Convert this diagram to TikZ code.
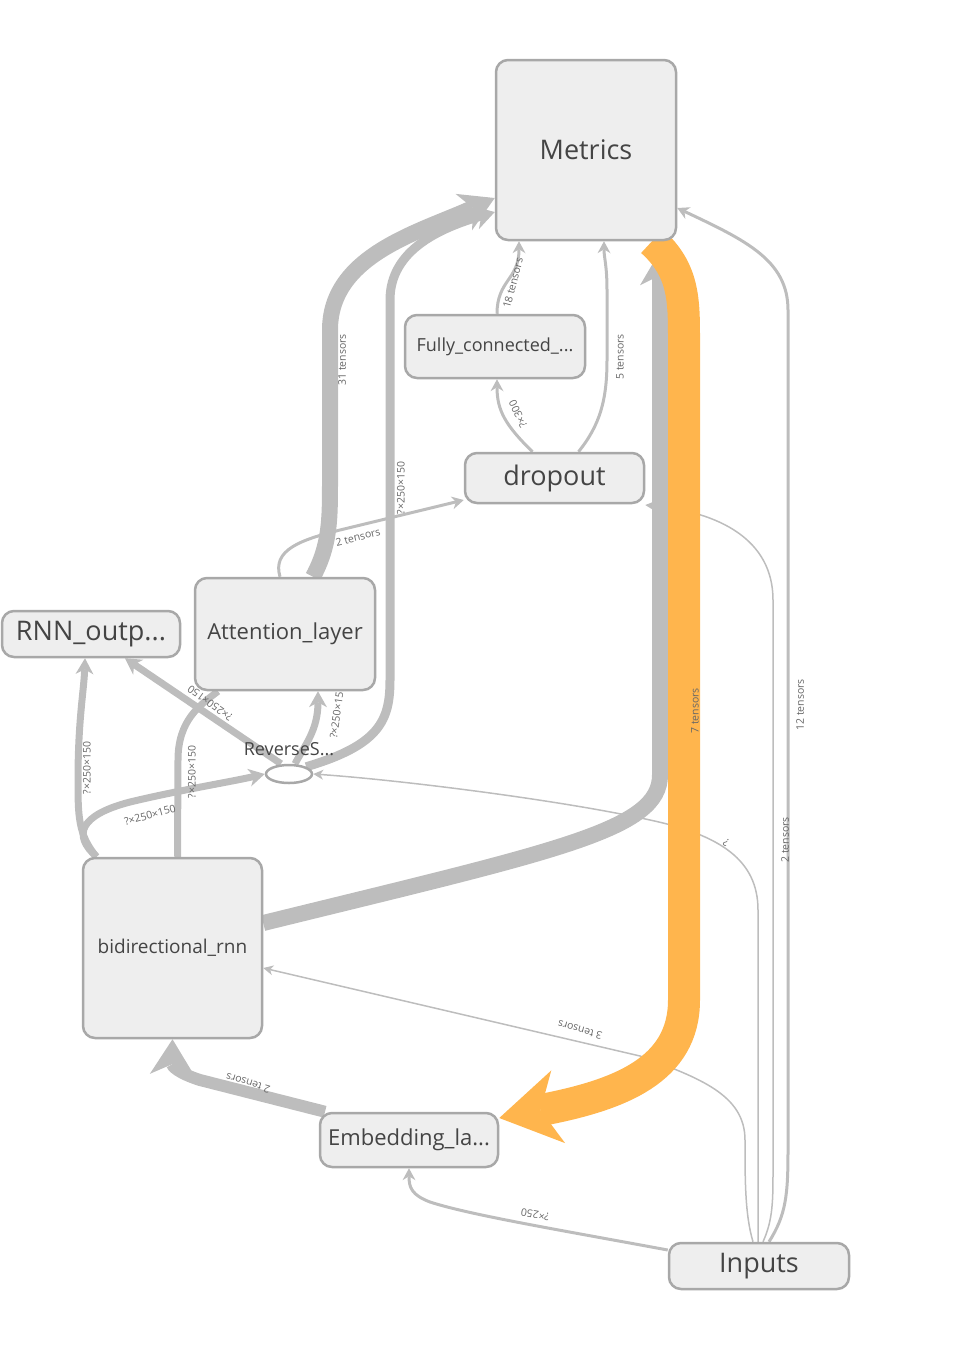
\documentclass[tikz,border=0pt]{standalone}
\usepackage{fontspec}
\setmainfont{Open Sans}
\usetikzlibrary{arrows.meta,shapes.geometric,backgrounds}
\definecolor{boxfill}{HTML}{EEEEEE}
\definecolor{boxline}{HTML}{A8A8A8}
\definecolor{edgegray}{HTML}{BDBDBD}
\definecolor{edgeorange}{HTML}{FFB54D}
\definecolor{nodetext}{HTML}{444444}
\definecolor{lbltext}{HTML}{666666}
\tikzset{
  opbox/.style={draw=boxline, fill=boxfill, line width=2.5pt, rounded corners=12pt, text=nodetext, inner sep=0pt},
  lbl/.style={text=lbltext, font=\fontsize{10.5}{11}\selectfont, inner sep=1pt},
  e1/.style={draw=edgegray, line width=1.5pt, -{Stealth[length=10pt,width=10pt,inset=3pt,line width=0pt]}},
  e3/.style={draw=edgegray, line width=3pt, -{Stealth[length=12pt,width=13pt,inset=4pt,line width=0pt]}},
  e7/.style={draw=edgegray, line width=7pt, -{Stealth[length=16pt,width=18pt,inset=5pt,line width=0pt]}},
  e9/.style={draw=edgegray, line width=9pt, -{Stealth[length=20pt,width=24pt,inset=6pt,line width=0pt]}},
  e12/.style={draw=edgegray, line width=12pt, -{Stealth[length=35pt,width=44pt,inset=10pt,line width=0pt]}},
  e16/.style={draw=edgegray, line width=16pt, -{Stealth[length=34pt,width=40pt,inset=10pt,line width=0pt]}},
  eorange/.style={draw=edgeorange, line width=32pt, -{Stealth[length=60pt,width=74pt,inset=18pt,line width=0pt]}}
}
\begin{document}
\begin{tikzpicture}[x=1pt,y=-1pt]
\useasboundingbox (0,0) rectangle (969,1350);
\node[opbox, minimum width=180pt, minimum height=180pt, font=\fontsize{27}{30}\selectfont] (metrics) at (586,150) {Metrics};
\node[opbox, minimum width=180pt, minimum height=63pt, font=\fontsize{18}{20}\selectfont] (fc) at (495,346.5) {Fully\_connected\_...};
\node[opbox, minimum width=179pt, minimum height=50pt, font=\fontsize{27}{30}\selectfont] (dropout) at (554.5,478) {dropout};
\node[opbox, minimum width=180pt, minimum height=112pt, font=\fontsize{22}{25}\selectfont] (attn) at (285,634) {Attention\_layer};
\node[opbox, minimum width=178pt, minimum height=46pt, font=\fontsize{27}{30}\selectfont] (rnnout) at (91,634) {RNN\_outp...};
\node[ellipse, draw=boxline, fill=white, line width=2.5pt, minimum width=46pt, minimum height=18pt, inner sep=0pt] (rev) at (289,774) {};
\node[text=nodetext, font=\fontsize{18}{20}\selectfont, inner sep=0pt] (revlbl) at (289,749) {ReverseS...};
\node[opbox, minimum width=179pt, minimum height=180pt, font=\fontsize{19}{22}\selectfont] (birnn) at (172.5,948) {bidirectional\_rnn};
\node[opbox, minimum width=178pt, minimum height=54pt, font=\fontsize{22}{25}\selectfont] (embed) at (409,1140) {Embedding\_la...};
\node[opbox, minimum width=180pt, minimum height=46pt, font=\fontsize{27}{30}\selectfont] (inputs) at (759,1266) {Inputs};
\begin{scope}[on background layer]
\draw[e1] ([xshift=-6pt]inputs.north) .. controls (745,1215) and (745,1180) .. (745,1140) .. controls (745,1095) and (700,1078) .. (640,1056) -- ([yshift=-20pt]birnn.east);
\draw[e1] ([xshift=-1pt]inputs.north) -- (758,910) .. controls (758,860) and (720,835) .. (650,820) .. controls (560,800) and (400,780) .. (rev.east);
\draw[e1] ([xshift=4pt]inputs.north) .. controls (773,1220) and (773,1200) .. (773,1170) -- (773,600) .. controls (773,540) and (720,512) .. ([yshift=-27pt]dropout.east);
\draw[e3] ([xshift=10pt]inputs.north) .. controls (786,1215) and (788,1195) .. (788,1150) -- (788,310) .. controls (788,260) and (745,240) .. ([yshift=-58pt]metrics.east);
\draw[e3] ([yshift=16pt]inputs.west) .. controls (560,1230) and (470,1215) .. (430,1202) .. controls (412,1195) and (409,1188) .. (embed.south);
\draw[e3] ([xshift=2pt]fc.north) .. controls (497,280) and (519,280) .. ([xshift=-67pt]metrics.south);
\draw[e3] ([xshift=-22pt]dropout.north) .. controls (505,425) and (497,410) .. ([xshift=2pt]fc.south);
\draw[e3] ([xshift=24pt]dropout.north) .. controls (600,425) and (607,400) .. (607,360) -- (607,290) .. controls (607,265) and (604,258) .. ([xshift=18pt]metrics.south);
\draw[e3] ([xshift=-5pt]attn.north) .. controls (272,550) and (300,540) .. (340,530) -- ([yshift=-22pt]dropout.west);
\draw[e7] ([xshift=-76pt]birnn.north) .. controls (78,835) and (78,815) .. (78,780) .. controls (78,720) and (84,690) .. ([xshift=-6pt]rnnout.south);
\draw[e7] ([xshift=-76pt]birnn.north) .. controls (72,835) and (80,815) .. (130,802) .. controls (180,790) and (230,782) .. (rev.west);
\draw[e7, -] ([xshift=5pt]birnn.north) -- (178,760) .. controls (178,720) and (200,705) .. ([xshift=-67pt]attn.south);
\draw[e7] ([xshift=-8pt]rev.north) -- ([xshift=34pt]rnnout.south);
\draw[e7] ([xshift=6pt]rev.north) .. controls (305,745) and (318,730) .. ([xshift=33pt]attn.south);
\draw[e9] (rev.north east) .. controls (380,745) and (390,720) .. (390,680) -- (390,300) .. controls (390,250) and (440,228) .. ([yshift=-62pt]metrics.west);
\draw[e16] ([xshift=28pt]attn.north) .. controls (330,545) and (330,520) .. (330,480) -- (330,330) .. controls (330,255) and (420,232) .. ([yshift=-48pt]metrics.west);
\draw[e16] ([yshift=25pt]birnn.east) .. controls (560,850) and (660,830) .. (660,775) -- ([xshift=74pt,yshift=-10pt]metrics.south);
\draw[e12] ([xshift=-84pt]embed.north) -- (200,1080) .. controls (178,1073) and (172,1066) .. (birnn.south);
\draw[eorange] ([xshift=66pt]metrics.south) .. controls (684,270) and (684,300) .. (684,340) -- (684,1000) .. controls (684,1070) and (620,1095) .. ([yshift=22pt]embed.east);
\node[lbl, rotate=90] (l31) at (342,360) {31 tensors};
\node[lbl, rotate=75] (l18) at (513,283) {18 tensors};
\node[lbl, rotate=115] (l300) at (518,414) {?×300};
\node[lbl, rotate=90] (l5) at (620,357) {5 tensors};
\node[lbl, rotate=14] (l2a) at (358,537) {2 tensors};
\node[lbl, rotate=90] (l7) at (695,711) {7 tensors};
\node[lbl, rotate=90] (l12) at (800,705) {12 tensors};
\node[lbl, rotate=90] (l2b) at (785,840) {2 tensors};
\node[lbl, rotate=150] (lq) at (726,843) {?};
\node[lbl, rotate=165] (l3) at (580,1030) {3 tensors};
\node[lbl, rotate=163] (l2c) at (248,1083) {2 tensors};
\node[lbl, rotate=170] (l250) at (535,1215) {?×250};
\foreach \p/\r/\n in {(401,488)/90/a, (87,768)/90/b, (150,815)/15/c, (192,772)/90/d, (210,703)/144/e, (337,712)/82/f}
  \node[lbl, rotate=\r] (lshape\n) at \p {?×250×150};
\end{scope}
\end{tikzpicture}
\end{document}
